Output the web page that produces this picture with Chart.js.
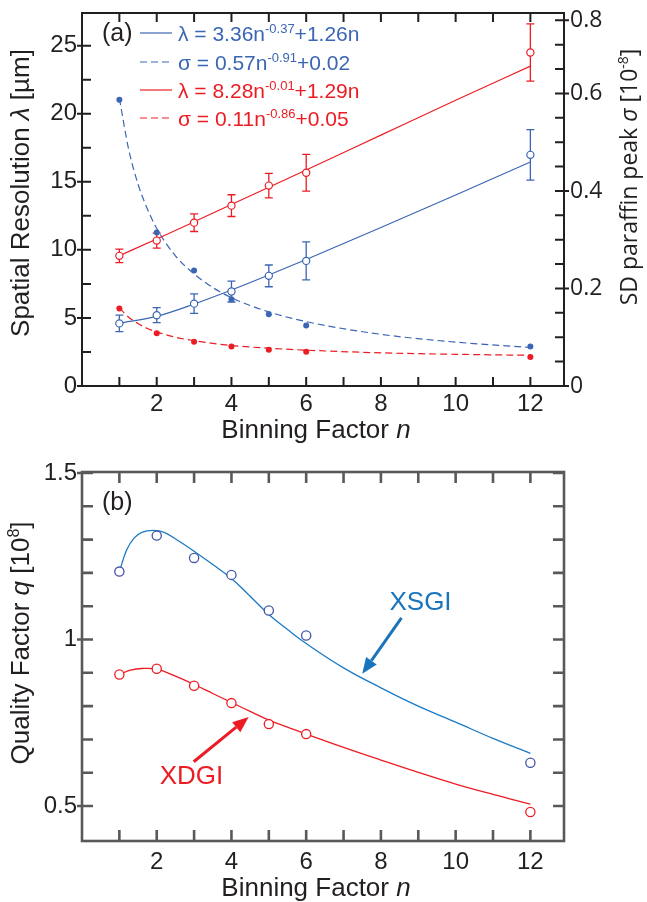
<!DOCTYPE html>
<html><head><meta charset="utf-8">
<script src="https://cdn.jsdelivr.net/npm/chart.js@4.4.1/dist/chart.umd.min.js"></script>
<style>
html,body{margin:0;padding:0;background:#fff;}
#wrap{position:relative;width:647px;height:902px;overflow:hidden;}
#c1{position:absolute;left:0;top:0;}
#c2{position:absolute;left:0;top:450px;}
</style></head><body>
<div id="wrap"><canvas id="c1" width="647" height="450"></canvas><canvas id="c2" width="647" height="452"></canvas></div>
<script>
// ---------- DATA ----------
const binning = [1, 2, 3, 4, 5, 6, 12];
// (a) spatial resolution lambda [um]
const lambdaXSGI    = [4.6, 5.2, 6.05, 6.94, 8.09, 9.19, 16.98];
const lambdaXSGIErr = [0.6, 0.55, 0.72, 0.77, 0.8, 1.4, 1.85];
const lambdaXDGI    = [9.56, 10.68, 12.0, 13.25, 14.72, 15.66, 24.5];
const lambdaXDGIErr = [0.5, 0.55, 0.65, 0.8, 0.9, 1.35, 2.1];
// (a) SD paraffin peak sigma [1e-8]
const sigmaXSGI = [0.587, 0.315, 0.237, 0.178, 0.147, 0.124, 0.081];
const sigmaXDGI = [0.159, 0.108, 0.091, 0.081, 0.0745, 0.070, 0.0595];
// (a) fitted curves
const fitLambdaN    = [1, 2, 3, 4, 5, 6, 8, 10, 12];
const fitLambdaXSGI = [4.62, 5.12, 6.02, 7.05, 8.15, 9.29, 11.64, 14.03, 16.46];
const fitLambdaXDGI = [9.57, 10.8, 12.06, 13.33, 14.6, 15.87, 18.43, 20.99, 23.5];
const fitSigmaN     = [1, 1.25, 1.5, 1.75, 2, 2.5, 3, 3.5, 4, 5, 6, 8, 10, 12];
const fitSigmaXSGI  = [0.59, 0.485, 0.414, 0.363, 0.323, 0.267, 0.23, 0.202, 0.181, 0.152, 0.132, 0.106, 0.09, 0.079];
const fitSigmaXDGI  = [0.16, 0.141, 0.128, 0.118, 0.111, 0.10, 0.093, 0.0875, 0.083, 0.0775, 0.0735, 0.068, 0.065, 0.063];
// (b) quality factor q [1e8]
const qXSGI = [1.204, 1.312, 1.245, 1.194, 1.087, 1.012, 0.630];
const qXDGI = [0.895, 0.912, 0.861, 0.809, 0.746, 0.716, 0.482];
const qFitXSGIN = [1, 1.2, 1.4, 1.6, 1.9, 2.2, 2.6, 3, 3.5, 4, 4.5, 5, 5.5, 6, 7, 8, 9, 10, 11, 12];
const qFitXSGI  = [1.204, 1.27, 1.305, 1.322, 1.328, 1.322, 1.295, 1.265, 1.225, 1.183, 1.13, 1.075, 1.03, 0.988, 0.915, 0.855, 0.80, 0.752, 0.703, 0.658];
const qFitXDGIN = [1, 1.3, 1.6, 2, 2.5, 3, 3.5, 4, 4.5, 5, 5.5, 6, 7, 8, 9, 10, 11, 12];
const qFitXDGI  = [0.895, 0.908, 0.913, 0.911, 0.89, 0.865, 0.838, 0.811, 0.784, 0.758, 0.737, 0.716, 0.676, 0.638, 0.601, 0.566, 0.535, 0.506];
// tick values and labels
const xTickValues   = [1,2,3,4,5,6,7,8,9,10,11,12];
const xLabelValues  = [2,4,6,8,10,12];
const lambdaTickValues  = [0,2.5,5,7.5,10,12.5,15,17.5,20,22.5,25];
const lambdaLabelValues = [0,5,10,15,20,25];
const sigmaTickValues   = [0,0.05,0.1,0.15,0.2,0.25,0.3,0.35,0.4,0.45,0.5,0.55,0.6,0.65,0.7,0.75];
const sigmaLabelValues  = [0,0.2,0.4,0.6,0.75];
const sigmaLabelTexts   = ['0','0.2','0.4','0.6','0.8'];
const qTickValues   = [0.5,0.6,0.7,0.8,0.9,1.0,1.1,1.2,1.3,1.4,1.5];
const qLabelValues  = [0.5,1.0,1.5];
const qLabelTexts   = ['0.5','1','1.5'];
const legendEntries = [
  {main:'λ = 3.36n', sup:'-0.37', tail:'+1.26n', color:'blue', dash:false},
  {main:'σ = 0.57n', sup:'-0.91', tail:'+0.02',  color:'blue', dash:true},
  {main:'λ = 8.28n', sup:'-0.01', tail:'+1.29n', color:'red',  dash:false},
  {main:'σ = 0.11n', sup:'-0.86', tail:'+0.05',  color:'red',  dash:true}
];

// ---------- STYLE ----------
const FONT = '"Liberation Sans", Arial, Helvetica, sans-serif';
const FONT2 = '"Open Sans", "Liberation Sans", sans-serif';
const C_BLUE = '#3b66b4', C_RED = '#ec1c24';
const C_BLUE_LINE = '#1b7ac4', C_BLUE_TXT = '#1a74bb', C_BLUE_PTS = '#4456a8';
const DARK = '#231f20', GRAY = '#58595b';
const colorOf = c => c === 'blue' ? C_BLUE : C_RED;

const pts = (xs, ys) => xs.map((x, i) => ({x, y: ys[i]}));
const near = (a, b) => Math.abs(a - b) < 1e-6;
const zeroPad = s => { s.paddingTop = 0; s.paddingBottom = 0; s.paddingLeft = 0; s.paddingRight = 0; };

function richWidth(ctx, segs) {
  let w = 0;
  for (const s of segs) { ctx.font = s.font; w += ctx.measureText(s.t).width; }
  return w;
}
function drawRich(ctx, segs, x, y, align) {
  const w = richWidth(ctx, segs);
  let cx = align === 'center' ? x - w / 2 : (align === 'right' ? x - w : x);
  ctx.textAlign = 'left'; ctx.textBaseline = 'alphabetic';
  for (const s of segs) {
    ctx.font = s.font;
    if (s.color) ctx.fillStyle = s.color;
    ctx.fillText(s.t, cx, y + (s.dy || 0));
    cx += ctx.measureText(s.t).width;
  }
}

// error bars through the library's scales
const errorBarPlugin = {
  id: 'errorBars',
  beforeDatasetsDraw(chart) {
    const ctx = chart.ctx;
    chart.data.datasets.forEach((ds) => {
      if (!ds.errorBars) return;
      const xs = chart.scales.x, ys = chart.scales[ds.yAxisID || 'y'];
      ctx.save();
      ctx.strokeStyle = ds.borderColor; ctx.lineWidth = 1.3;
      ds.data.forEach((p, j) => {
        const e = ds.errorBars[j];
        const px = xs.getPixelForValue(p.x);
        const y1 = ys.getPixelForValue(p.y + e), y2 = ys.getPixelForValue(p.y - e);
        ctx.beginPath();
        ctx.moveTo(px, y1); ctx.lineTo(px, y2);
        ctx.moveTo(px - 4, y1); ctx.lineTo(px + 4, y1);
        ctx.moveTo(px - 4, y2); ctx.lineTo(px + 4, y2);
        ctx.stroke();
      });
      ctx.restore();
    });
  }
};

// frame + inward ticks
const frameTicksPlugin = {
  id: 'frameTicks',
  afterDraw(chart, args, o) {
    const ctx = chart.ctx, a = chart.chartArea;
    ctx.save();
    ctx.strokeStyle = o.color; ctx.lineWidth = o.width; ctx.lineCap = 'butt';
    ctx.beginPath();
    const xs = chart.scales.x;
    for (const v of o.xTicks) {
      const px = xs.getPixelForValue(v);
      ctx.moveTo(px, a.bottom); ctx.lineTo(px, a.bottom - o.len);
      ctx.moveTo(px, a.top); ctx.lineTo(px, a.top + o.len);
    }
    for (const side of ['left', 'right']) {
      const d = o[side]; if (!d) continue;
      const ys = chart.scales[d.scale];
      const edge = side === 'left' ? a.left : a.right;
      const dir = side === 'left' ? 1 : -1;
      for (const v of d.ticks) {
        const py = ys.getPixelForValue(v);
        const major = d.major.some(m => near(m, v));
        ctx.moveTo(edge - dir * (major ? o.out : 0), py);
        ctx.lineTo(edge + dir * o.len, py);
      }
    }
    ctx.stroke();
    ctx.lineWidth = o.width;
    ctx.strokeRect(a.left, a.top, a.right - a.left, a.bottom - a.top);
    ctx.restore();
  }
};

// titles, panel labels, legend, annotations
const textPlugin = {
  id: 'texts',
  afterDraw(chart, args, o) {
    const ctx = chart.ctx, a = chart.chartArea;
    ctx.save();
    for (const it of (o.items || [])) {
      ctx.save();
      ctx.fillStyle = it.color || DARK;
      if (it.rot) {
        ctx.translate(it.x, it.y); ctx.rotate(-Math.PI / 2);
        drawRich(ctx, it.segs, 0, 0, it.align || 'center');
      } else {
        drawRich(ctx, it.segs, it.x, it.y, it.align || 'left');
      }
      ctx.restore();
    }
    if (o.legend) {
      const L = o.legend;
      L.entries.forEach((e, i) => {
        const cy = a.top + L.rows[i];
        const col = colorOf(e.color);
        ctx.save();
        ctx.strokeStyle = col; ctx.lineWidth = 1.2;
        ctx.setLineDash(e.dash ? [7, 4] : []);
        ctx.beginPath(); ctx.moveTo(a.left + L.lineX0, cy); ctx.lineTo(a.left + L.lineX1, cy); ctx.stroke();
        ctx.setLineDash([]);
        ctx.fillStyle = col;
        drawRich(ctx, [
          {t: e.main, font: `${L.size}px ${FONT}`},
          {t: e.sup, font: `${L.supSize}px ${FONT}`, dy: -8},
          {t: e.tail, font: `${L.size}px ${FONT}`}
        ], a.left + L.textX, cy + 7.5, 'left');
        ctx.restore();
      });
    }
    if (o.arrows) {
      const xs = chart.scales.x, ys = chart.scales.y;
      for (const ar of o.arrows) {
        ctx.save();
        ctx.fillStyle = ar.color; ctx.strokeStyle = ar.color;
        ctx.font = `${ar.size}px ${FONT}`;
        ctx.textAlign = 'center'; ctx.textBaseline = 'middle';
        ctx.fillText(ar.text, xs.getPixelForValue(ar.at[0]), ys.getPixelForValue(ar.at[1]));
        const x0 = xs.getPixelForValue(ar.tail[0]), y0 = ys.getPixelForValue(ar.tail[1]);
        const x1 = xs.getPixelForValue(ar.tip[0]), y1 = ys.getPixelForValue(ar.tip[1]);
        const ang = Math.atan2(y1 - y0, x1 - x0);
        const hl = 16, hw = 6.5;
        const bx = x1 - hl * Math.cos(ang), by = y1 - hl * Math.sin(ang);
        ctx.lineWidth = 3;
        ctx.beginPath(); ctx.moveTo(x0, y0); ctx.lineTo(bx, by); ctx.stroke();
        ctx.beginPath();
        ctx.moveTo(x1, y1);
        ctx.lineTo(bx + hw * Math.sin(ang), by - hw * Math.cos(ang));
        ctx.lineTo(bx - hw * Math.sin(ang), by + hw * Math.cos(ang));
        ctx.closePath(); ctx.fill();
        ctx.restore();
      }
    }
    ctx.restore();
  }
};

const tickFont = {family: FONT, size: 24, lineHeight: 1};

function xScale(height, pad, color) {
  return {
    type: 'linear', min: 0, max: 12.9,
    grid: {display: false, drawTicks: false}, border: {display: false},
    afterBuildTicks: s => { s.ticks = xTickValues.map(v => ({value: v})); },
    afterFit: s => { s.height = height; zeroPad(s); },
    ticks: {autoSkip: false, maxRotation: 0, minRotation: 0, padding: pad, font: tickFont, color: color,
      callback: v => xLabelValues.some(m => near(m, v)) ? String(v) : ''}
  };
}

// ---------- CHART (a) ----------
new Chart(document.getElementById('c1'), {
  type: 'scatter',
  data: {datasets: [
    {label: 'λ XSGI', data: pts(binning, lambdaXSGI), yAxisID: 'y', errorBars: lambdaXSGIErr,
     borderColor: C_BLUE, backgroundColor: '#fff', pointRadius: 3.6, pointBorderWidth: 1.2, showLine: false},
    {label: 'λ XDGI', data: pts(binning, lambdaXDGI), yAxisID: 'y', errorBars: lambdaXDGIErr,
     borderColor: C_RED, backgroundColor: '#fff', pointRadius: 3.6, pointBorderWidth: 1.2, showLine: false},
    {label: 'σ XSGI', data: pts(binning, sigmaXSGI), yAxisID: 'y2',
     borderColor: C_BLUE, backgroundColor: C_BLUE, pointRadius: 3, pointBorderWidth: 0, showLine: false},
    {label: 'σ XDGI', data: pts(binning, sigmaXDGI), yAxisID: 'y2',
     borderColor: C_RED, backgroundColor: C_RED, pointRadius: 3, pointBorderWidth: 0, showLine: false},
    {label: 'λ fit XSGI', data: pts(fitLambdaN, fitLambdaXSGI), yAxisID: 'y', showLine: true, pointRadius: 0,
     borderColor: C_BLUE, borderWidth: 1.2, cubicInterpolationMode: 'monotone'},
    {label: 'λ fit XDGI', data: pts(fitLambdaN, fitLambdaXDGI), yAxisID: 'y', showLine: true, pointRadius: 0,
     borderColor: C_RED, borderWidth: 1.2, cubicInterpolationMode: 'monotone'},
    {label: 'σ fit XSGI', data: pts(fitSigmaN, fitSigmaXSGI), yAxisID: 'y2', showLine: true, pointRadius: 0,
     borderColor: C_BLUE, borderWidth: 1.2, borderDash: [7, 4], cubicInterpolationMode: 'monotone'},
    {label: 'σ fit XDGI', data: pts(fitSigmaN, fitSigmaXDGI), yAxisID: 'y2', showLine: true, pointRadius: 0,
     borderColor: C_RED, borderWidth: 1.2, borderDash: [7, 4], cubicInterpolationMode: 'monotone'}
  ]},
  options: {
    responsive: false, animation: false, devicePixelRatio: 1,
    layout: {padding: {top: 13, left: 0, right: 0, bottom: 0}},
    plugins: {
      legend: {display: false}, tooltip: {enabled: false},
      frameTicks: {color: DARK, width: 2, len: 9, out: 5, xTicks: xTickValues,
        left: {scale: 'y', ticks: lambdaTickValues, major: lambdaLabelValues},
        right: {scale: 'y2', ticks: sigmaTickValues, major: sigmaLabelValues}},
      texts: {
        items: [
          {segs: [{t: 'Binning Factor ', font: `26px ${FONT}`}, {t: 'n', font: `italic 26px ${FONT}`}], x: 316, y: 438, align: 'center'},
          {segs: [{t: 'Spatial Resolution ', font: `26px ${FONT}`}, {t: 'λ', font: `italic 26px ${FONT}`}, {t: ' [µm]', font: `26px ${FONT}`}], x: 29, y: 193, rot: true},
          {segs: [{t: 'SD paraffin peak ', font: `23px ${FONT2}`}, {t: 'σ', font: `italic 23px ${FONT2}`}, {t: ' [10', font: `23px ${FONT2}`}, {t: '-8', font: `14px ${FONT2}`, dy: -9}, {t: ']', font: `23px ${FONT2}`}], x: 637, y: 177, rot: true},
          {segs: [{t: '(a)', font: `25px ${FONT}`}], x: 102, y: 41}
        ],
        legend: {entries: legendEntries, rows: [20, 49, 77, 105], lineX0: 58, lineX1: 90, textX: 96, size: 21, supSize: 13}
      }
    },
    scales: {
      x: xScale(64, 6, DARK),
      y: {position: 'left', min: 0, max: 27.4,
        grid: {display: false, drawTicks: false}, border: {display: false},
        afterBuildTicks: s => { s.ticks = lambdaTickValues.map(v => ({value: v})); },
        afterFit: s => { s.width = 82; zeroPad(s); },
        ticks: {autoSkip: false, padding: 5, font: tickFont, color: DARK,
          callback: v => lambdaLabelValues.some(m => near(m, v)) ? String(v) : ''}},
      y2: {position: 'right', min: 0, max: 0.765,
        grid: {display: false, drawTicks: false}, border: {display: false},
        afterBuildTicks: s => { s.ticks = sigmaTickValues.map(v => ({value: v})); },
        afterFit: s => { s.width = 83; zeroPad(s); },
        ticks: {autoSkip: false, padding: 6, font: {family: FONT2, size: 23, lineHeight: 1}, color: DARK,
          callback: v => { const k = sigmaLabelValues.findIndex(m => near(m, v)); return k >= 0 ? sigmaLabelTexts[k] : ''; }}}
    }
  },
  plugins: [errorBarPlugin, frameTicksPlugin, textPlugin]
});

// ---------- CHART (b) ----------
new Chart(document.getElementById('c2'), {
  type: 'scatter',
  data: {datasets: [
    {label: 'XSGI', data: pts(binning, qXSGI), borderColor: C_BLUE_PTS, backgroundColor: '#fff',
     pointRadius: 4.6, pointBorderWidth: 1.3, showLine: false},
    {label: 'XDGI', data: pts(binning, qXDGI), borderColor: C_RED, backgroundColor: '#fff',
     pointRadius: 4.6, pointBorderWidth: 1.3, showLine: false},
    {label: 'XSGI fit', data: pts(qFitXSGIN, qFitXSGI), showLine: true, pointRadius: 0,
     borderColor: C_BLUE_LINE, borderWidth: 1.3, tension: 0.4},
    {label: 'XDGI fit', data: pts(qFitXDGIN, qFitXDGI), showLine: true, pointRadius: 0,
     borderColor: C_RED, borderWidth: 1.3, tension: 0.4}
  ]},
  options: {
    responsive: false, animation: false, devicePixelRatio: 1,
    layout: {padding: {top: 22, left: 0, right: 83, bottom: 0}},
    plugins: {
      legend: {display: false}, tooltip: {enabled: false},
      frameTicks: {color: GRAY, width: 2.6, len: 11, out: 5, xTicks: xTickValues,
        left: {scale: 'y', ticks: qTickValues, major: qLabelValues},
        right: {scale: 'y', ticks: qTickValues, major: []}},
      texts: {
        items: [
          {segs: [{t: 'Binning Factor ', font: `26px ${FONT}`}, {t: 'n', font: `italic 26px ${FONT}`}], x: 316, y: 446, align: 'center'},
          {segs: [{t: 'Quality Factor ', font: `26px ${FONT}`}, {t: 'q', font: `italic 26px ${FONT}`}, {t: ' [10', font: `26px ${FONT}`}, {t: '8', font: `16px ${FONT}`, dy: -10}, {t: ']', font: `26px ${FONT}`}], x: 29, y: 193, rot: true},
          {segs: [{t: '(b)', font: `25px ${FONT}`}], x: 102, y: 60}
        ],
        arrows: [
          {text: 'XSGI', color: C_BLUE_TXT, size: 26, at: [9.06, 1.11], tail: [8.55, 1.065], tip: [7.5, 0.897]},
          {text: 'XDGI', color: C_RED, size: 26, at: [2.93, 0.587], tail: [2.99, 0.633], tip: [4.46, 0.767]}
        ]
      }
    },
    scales: {
      x: xScale(61, 9, DARK),
      y: {position: 'left', min: 0.395, max: 1.503,
        grid: {display: false, drawTicks: false}, border: {display: false},
        afterBuildTicks: s => { s.ticks = qTickValues.map(v => ({value: v})); },
        afterFit: s => { s.width = 82; zeroPad(s); },
        ticks: {autoSkip: false, padding: 5, font: tickFont, color: DARK,
          callback: v => { const k = qLabelValues.findIndex(m => near(m, v)); return k >= 0 ? qLabelTexts[k] : ''; }}}
    }
  },
  plugins: [frameTicksPlugin, textPlugin]
});
</script>
</body></html>
